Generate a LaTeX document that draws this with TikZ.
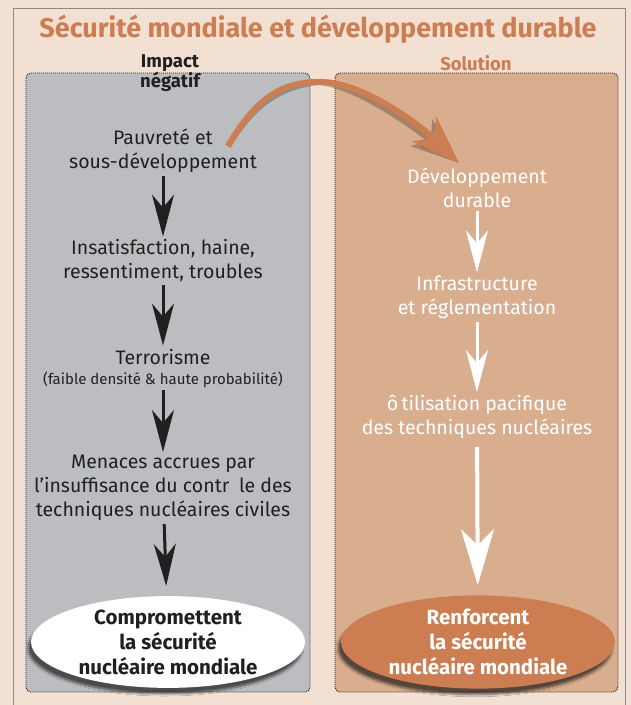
\documentclass[tikz,border=0pt]{standalone}
\usepackage{fontspec}
\setmainfont{Fira Sans}
\usetikzlibrary{arrows.meta,shapes.geometric,shadows.blur}

\definecolor{sable}{HTML}{F2E0D2}
\definecolor{cuivre}{HTML}{CC7D51}
\definecolor{gris}{HTML}{BCBDC0}
\definecolor{saumon}{HTML}{D9AE8F}
\definecolor{encre}{HTML}{231F20}
\definecolor{cadre}{HTML}{8E8A88}

\tikzset{
  panneau/.style={fill=#1,draw=encre,line width=0.9pt,dash pattern=on 1pt off 1pt,rounded corners=5pt},
  bulle/.style={ellipse,minimum width=274pt,minimum height=91pt,inner sep=0pt,
    font=\bfseries\fontsize{20.5}{25}\selectfont,
    blur shadow={shadow xshift=-3pt,shadow yshift=-6pt,shadow blur steps=8,shadow opacity=60}},
  fleche/.style={line width=3pt,-{Stealth[length=42pt,width=22pt,inset=13pt]}},
  grandefleche/.style={line width=4pt,-{Stealth[length=56pt,width=33pt,inset=16pt]}},
}

\begin{document}
\begin{tikzpicture}
  [x=1pt,y=-1pt,every node/.style={align=center,inner sep=2pt,font=\fontsize{19.5}{24}\selectfont}]
  \useasboundingbox (0,0) rectangle (631,705);
  \fill[sable] (0,0) rectangle (631,705);
  \draw[cadre,line width=1pt] (13,712) |- (625,8) -- (625,712);

  % les deux colonnes
  \draw[panneau=gris]   (26,73)  rectangle (310,692);
  \draw[panneau=saumon] (335,73) rectangle (618,692);

  \node[text=cuivre,font=\bfseries\fontsize{27}{30}\selectfont] (titre) at (318,29)
    {Sécurité mondiale et développement durable};
  \node[text=encre,font=\bfseries\fontsize{18.5}{19}\selectfont] (impact) at (170,73) {Impact\\négatif};
  \node[text=cuivre,font=\bfseries\fontsize{18.5}{19}\selectfont] (solution) at (476,63) {Solution};

  % impact negatif
  \node[text=encre] (n1) at (163,151) {Pauvreté et\\sous-développement};
  \node[text=encre] (n2) at (163,261) {Insatisfaction, haine,\\ressentiment, troubles};
  \node[text=encre] (n3) at (163,368) {Terrorisme\\[-4pt]{\fontsize{15}{16}\selectfont (faible densité \& haute probabilité)}};
  \node[text=encre] (n4) at (163,488) {Menaces accrues par\\l’insuffisance du contr\hspace{0.5em}le des\\techniques nucléaires civiles};
  \node[bulle,fill=white,text=encre] (ng) at (168,642) {Compromettent\\la sécurité\\nucléaire mondiale};

  % solution
  \node[text=white] (r1) at (477,188) {Développement\\durable};
  \node[text=white] (r2) at (477,297) {Infrastructure\\et réglementation};
  \node[text=white] (r3) at (477,417) {ô\,tilisation pacifique\\des techniques nucléaires};
  \node[bulle,fill=cuivre,text=white] (rg) at (478,642) {Renforcent\\la sécurité\\nucléaire mondiale};

  \path[fleche,draw=encre,fill=encre]
    (n1) edge[shorten <=1pt,shorten >=1pt] (n2)
    (n2) edge[shorten <=1pt,shorten >=1pt] (n3)
    (n3) edge[shorten <=1pt,shorten >=1pt] (n4)
    (n4) edge[shorten <=1pt,shorten >=10pt] (ng);
  \path[fleche,draw=white,fill=white]
    (r1) edge[shorten <=1pt,shorten >=1pt] (r2)
    (r2) edge[shorten <=1pt,shorten >=1pt] (r3);
  \path[grandefleche,draw=white,fill=white]
    (r3) edge[shorten <=6pt,shorten >=10pt] (rg);

  % passage de l'impact a la solution
  \coordinate (depart) at (228,146);
  \coordinate (sommet) at (318,82);
  \coordinate (arrivee) at (459,163);
  \draw[line width=6pt,black,opacity=0.25,xshift=-2pt,yshift=-5pt,
        -{Stealth[length=48pt,width=34pt,inset=12pt]}]
    (depart) .. controls (255,100) and (280,82) .. (sommet)
    .. controls (360,80) and (420,125) .. (arrivee);
  \draw[line width=6pt,cuivre,-{Stealth[length=48pt,width=34pt,inset=12pt]}]
    (depart) .. controls (255,100) and (280,82) .. (sommet)
    .. controls (360,80) and (420,125) .. (arrivee);
\end{tikzpicture}
\end{document}
